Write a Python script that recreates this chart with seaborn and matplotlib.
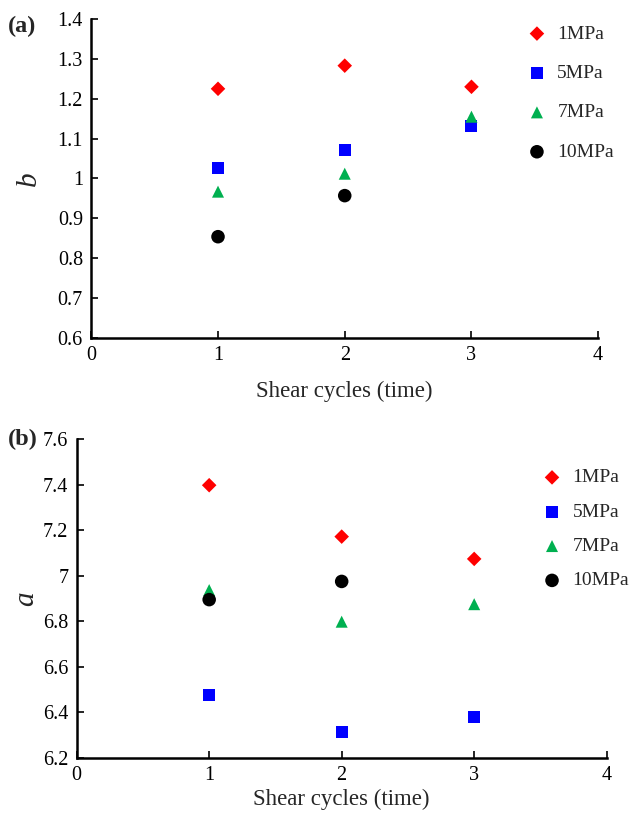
import matplotlib
matplotlib.use("Agg")
import matplotlib.pyplot as plt
import seaborn as sns
import pandas as pd

sns.set_style("ticks")
plt.rcParams["font.family"] = ["Liberation Serif", "DejaVu Serif"]

cycles = [1, 2, 3]
pressures = ["1MPa", "5MPa", "7MPa", "10MPa"]

# exponent b per confining pressure
b_1mpa = [1.225, 1.283, 1.230]
b_5mpa = [1.027, 1.072, 1.132]
b_7mpa = [0.967, 1.012, 1.155]
b_10mpa = [0.854, 0.957]

# coefficient a per confining pressure
a_1mpa = [7.398, 7.172, 7.074]
a_5mpa = [6.477, 6.312, 6.381]
a_7mpa = [6.937, 6.798, 6.875]
a_10mpa = [6.895, 6.975]

colors = {"1MPa": "#FF0000", "5MPa": "#0000FF", "7MPa": "#00B050", "10MPa": "#000000"}
markers = {"1MPa": "D", "5MPa": "s", "7MPa": "^", "10MPa": "o"}
sizes = {"1MPa": 55, "5MPa": 75, "7MPa": 75, "10MPa": 95}


def long_table(series):
    rows = []
    for name, vals in zip(pressures, series):
        for c, v in zip(cycles, vals):
            rows.append({"cycle": c, "value": v, "pressure": name})
    return pd.DataFrame(rows)


df_b = long_table([b_1mpa, b_5mpa, b_7mpa, b_10mpa])
df_a = long_table([a_1mpa, a_5mpa, a_7mpa, a_10mpa])

fig = plt.figure(figsize=(6.3, 8.13), dpi=100)
ax1 = fig.add_axes([0.1449, 0.5843, 0.8046, 0.3923])
ax2 = fig.add_axes([0.1217, 0.0680, 0.8413, 0.3917])


def draw(ax, df, ylim, yticks, ylabel, ytickfmt, legend_anchor, spacing,
         ypad, xpad):
    for name in pressures:
        sub = df[df["pressure"] == name]
        sns.scatterplot(data=sub, x="cycle", y="value", ax=ax,
                        color=colors[name], marker=markers[name],
                        s=sizes[name], edgecolor="none", label=name,
                        linewidth=0)
    ax.set_xlim(0, 4)
    ax.set_ylim(*ylim)
    ax.set_xticks([0, 1, 2, 3, 4])
    ax.set_yticks(yticks)
    ax.set_yticklabels([ytickfmt(v) for v in yticks])
    ax.tick_params(direction="in", length=5, width=1.2, labelsize=14.5,
                   colors="black", pad=6)
    for s in ["top", "right"]:
        ax.spines[s].set_visible(False)
    for s in ["left", "bottom"]:
        ax.spines[s].set_linewidth(1.8)
        ax.spines[s].set_color("black")
    ax.set_xlabel("Shear cycles (time)", fontsize=16.5, labelpad=xpad)
    ax.set_ylabel(ylabel, fontsize=21, style="italic", labelpad=ypad)
    leg = ax.legend(loc="upper left", bbox_to_anchor=legend_anchor,
                    frameon=False, fontsize=14, labelspacing=spacing,
                    handletextpad=0.55, borderaxespad=0, borderpad=0,
                    handlelength=1.0)
    return leg


def fmt_b(v):
    s = f"{v:.1f}"
    return "1" if s == "1.0" else s


def fmt_a(v):
    s = f"{v:.1f}"
    return "7" if s == "7.0" else s


draw(ax1, df_b, (0.6, 1.4), [0.6, 0.7, 0.8, 0.9, 1.0, 1.1, 1.2, 1.3, 1.4],
     "b", fmt_b, (0.86, 0.981), 1.12, 11, 11)
draw(ax2, df_a, (6.2, 7.6), [6.2, 6.4, 6.6, 6.8, 7.0, 7.2, 7.4, 7.6],
     "a", fmt_a, (0.8785, 0.907), 0.86, 3, 2.5)

fig.text(0.012, 0.960, "(a)", fontsize=17.5, fontweight="bold")
fig.text(0.012, 0.452, "(b)", fontsize=17.5, fontweight="bold")

fig.savefig("out.png", dpi=100)
